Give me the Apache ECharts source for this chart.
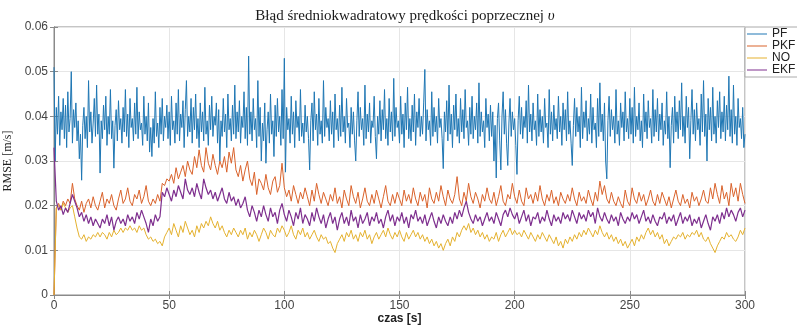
<!DOCTYPE html>
<html>
<head>
<meta charset="utf-8">
<script src="https://cdn.jsdelivr.net/npm/echarts@6/dist/echarts.min.js"></script>
<style>
html,body{margin:0;padding:0;background:#fff;}
#chart{width:797px;height:327px;}
</style>
</head>
<body>
<div id="chart"></div>
<script>
// time steps (s)
const pfStep = 0.5;
const otherStep = 1;

// PF – RMSE [m/s], every 0.5 s from 0 to 300 s
const pf = [
0.0510,0.0300,0.0420,0.0360,0.0445,0.0335,0.0410,0.0370,0.0440,0.0350,0.0425,0.0330,0.0455,0.0365,0.0395,0.0500,0.0340,0.0415,0.0375,0.0430,
0.0345,0.0390,0.0305,0.0360,0.0257,0.0380,0.0420,0.0350,0.0400,0.0330,0.0480,0.0365,0.0410,0.0340,0.0385,0.0440,0.0355,0.0470,0.0360,0.0405,
0.0273,0.0390,0.0350,0.0425,0.0370,0.0445,0.0335,0.0400,0.0360,0.0460,0.0350,0.0390,0.0284,0.0380,0.0415,0.0345,0.0435,0.0370,0.0395,0.0340,
0.0420,0.0365,0.0460,0.0355,0.0405,0.0330,0.0440,0.0375,0.0395,0.0345,0.0430,0.0360,0.0465,0.0350,0.0410,0.0370,0.0385,0.0335,0.0445,0.0360,
0.0400,0.0345,0.0430,0.0320,0.0375,0.0310,0.0395,0.0340,0.0455,0.0355,0.0385,0.0330,0.0420,0.0360,0.0440,0.0345,0.0400,0.0375,0.0425,0.0350,
0.0410,0.0335,0.0445,0.0370,0.0390,0.0340,0.0430,0.0360,0.0460,0.0345,0.0405,0.0375,0.0435,0.0330,0.0415,0.0480,0.0355,0.0400,0.0365,0.0440,
0.0340,0.0420,0.0370,0.0450,0.0350,0.0395,0.0330,0.0430,0.0365,0.0410,0.0345,0.0465,0.0360,0.0390,0.0335,0.0425,0.0370,0.0445,0.0355,0.0400,
0.0380,0.0430,0.0340,0.0415,0.0300,0.0390,0.0355,0.0440,0.0365,0.0405,0.0330,0.0450,0.0370,0.0395,0.0345,0.0425,0.0360,0.0470,0.0350,0.0410,
0.0365,0.0435,0.0340,0.0400,0.0375,0.0455,0.0350,0.0420,0.0335,0.0535,0.0360,0.0410,0.0345,0.0440,0.0370,0.0395,0.0330,0.0480,0.0355,0.0420,
0.0300,0.0385,0.0345,0.0430,0.0295,0.0370,0.0410,0.0340,0.0450,0.0360,0.0390,0.0310,0.0425,0.0355,0.0440,0.0365,0.0400,0.0335,0.0460,0.0350,
0.0530,0.0275,0.0420,0.0370,0.0395,0.0340,0.0445,0.0360,0.0410,0.0330,0.0435,0.0375,0.0400,0.0345,0.0460,0.0355,0.0385,0.0340,0.0425,0.0365,
0.0400,0.0350,0.0280,0.0390,0.0430,0.0345,0.0455,0.0370,0.0405,0.0335,0.0440,0.0360,0.0390,0.0340,0.0480,0.0355,0.0420,0.0375,0.0395,0.0345,
0.0435,0.0360,0.0410,0.0330,0.0450,0.0370,0.0395,0.0345,0.0425,0.0355,0.0465,0.0365,0.0400,0.0340,0.0440,0.0375,0.0385,0.0330,0.0420,0.0360,
0.0410,0.0345,0.0300,0.0390,0.0455,0.0355,0.0420,0.0370,0.0395,0.0335,0.0470,0.0350,0.0405,0.0365,0.0430,0.0340,0.0390,0.0375,0.0445,0.0355,
0.0305,0.0400,0.0360,0.0435,0.0345,0.0415,0.0370,0.0460,0.0350,0.0395,0.0335,0.0440,0.0365,0.0410,0.0345,0.0485,0.0355,0.0420,0.0375,0.0390,
0.0340,0.0445,0.0360,0.0405,0.0330,0.0430,0.0370,0.0465,0.0350,0.0395,0.0345,0.0425,0.0365,0.0450,0.0335,0.0410,0.0375,0.0440,0.0355,0.0400,
0.0360,0.0430,0.0505,0.0345,0.0415,0.0370,0.0390,0.0335,0.0455,0.0355,0.0420,0.0365,0.0400,0.0340,0.0440,0.0375,0.0395,0.0350,0.0283,0.0410,
0.0365,0.0435,0.0345,0.0470,0.0360,0.0405,0.0330,0.0425,0.0370,0.0450,0.0355,0.0395,0.0340,0.0440,0.0365,0.0415,0.0350,0.0460,0.0375,0.0390,
0.0335,0.0420,0.0360,0.0445,0.0350,0.0400,0.0370,0.0430,0.0340,0.0475,0.0355,0.0410,0.0365,0.0390,0.0330,0.0440,0.0375,0.0405,0.0345,0.0425,
0.0355,0.0410,0.0300,0.0380,0.0262,0.0395,0.0430,0.0345,0.0280,0.0400,0.0455,0.0360,0.0415,0.0340,0.0290,0.0385,0.0440,0.0355,0.0410,0.0370,
0.0395,0.0335,0.0270,0.0390,0.0445,0.0360,0.0420,0.0350,0.0400,0.0375,0.0435,0.0340,0.0470,0.0365,0.0405,0.0345,0.0430,0.0370,0.0390,0.0335,
0.0450,0.0355,0.0415,0.0365,0.0400,0.0340,0.0440,0.0375,0.0385,0.0330,0.0460,0.0360,0.0410,0.0345,0.0425,0.0370,0.0395,0.0350,0.0445,0.0365,
0.0400,0.0335,0.0430,0.0370,0.0415,0.0345,0.0455,0.0360,0.0390,0.0340,0.0290,0.0380,0.0440,0.0355,0.0420,0.0365,0.0400,0.0330,0.0465,0.0350,
0.0410,0.0375,0.0435,0.0345,0.0395,0.0360,0.0450,0.0340,0.0420,0.0370,0.0385,0.0330,0.0440,0.0355,0.0475,0.0365,0.0405,0.0345,0.0430,0.0300,
0.0260,0.0390,0.0445,0.0355,0.0415,0.0370,0.0400,0.0340,0.0460,0.0360,0.0390,0.0335,0.0430,0.0375,0.0410,0.0345,0.0455,0.0365,0.0395,0.0350,
0.0440,0.0360,0.0420,0.0340,0.0465,0.0355,0.0400,0.0370,0.0430,0.0345,0.0390,0.0330,0.0450,0.0365,0.0410,0.0350,0.0435,0.0375,0.0395,0.0340,
0.0460,0.0355,0.0415,0.0365,0.0440,0.0345,0.0405,0.0370,0.0430,0.0335,0.0390,0.0360,0.0455,0.0350,0.0400,0.0285,0.0380,0.0420,0.0340,0.0445,
0.0365,0.0410,0.0350,0.0435,0.0370,0.0475,0.0355,0.0400,0.0340,0.0445,0.0375,0.0420,0.0305,0.0390,0.0460,0.0360,0.0415,0.0345,0.0430,0.0370,
0.0395,0.0335,0.0450,0.0365,0.0480,0.0355,0.0405,0.0300,0.0440,0.0370,0.0420,0.0345,0.0465,0.0360,0.0400,0.0340,0.0435,0.0375,0.0455,0.0350,
0.0410,0.0365,0.0445,0.0345,0.0425,0.0370,0.0490,0.0355,0.0415,0.0340,0.0470,0.0360,0.0400,0.0335,0.0440,0.0375,0.0395,0.0350,0.0420,0.0330,
0.0360
];

// PKF – every 1 s from 0 to 300 s
const pkf = [
0.0000,0.0195,0.0205,0.0190,0.0210,0.0200,0.0215,0.0205,0.0250,0.0215,
0.0200,0.0190,0.0210,0.0185,0.0205,0.0215,0.0195,0.0220,0.0200,0.0190,
0.0210,0.0230,0.0195,0.0215,0.0205,0.0225,0.0200,0.0190,0.0215,0.0235,
0.0205,0.0215,0.0240,0.0210,0.0200,0.0225,0.0215,0.0235,0.0205,0.0220,
0.0245,0.0210,0.0200,0.0215,0.0205,0.0225,0.0210,0.0250,0.0245,0.0260,
0.0255,0.0270,0.0250,0.0285,0.0260,0.0275,0.0290,0.0265,0.0300,0.0280,
0.0270,0.0310,0.0285,0.0325,0.0290,0.0275,0.0330,0.0295,0.0280,0.0315,
0.0290,0.0270,0.0300,0.0285,0.0310,0.0275,0.0320,0.0295,0.0330,0.0280,
0.0265,0.0290,0.0255,0.0280,0.0300,0.0260,0.0245,0.0275,0.0225,0.0260,
0.0250,0.0235,0.0270,0.0240,0.0225,0.0255,0.0265,0.0230,0.0245,0.0295,
0.0240,0.0220,0.0235,0.0210,0.0245,0.0225,0.0205,0.0230,0.0215,0.0240,
0.0220,0.0200,0.0235,0.0210,0.0250,0.0225,0.0205,0.0230,0.0215,0.0200,
0.0225,0.0210,0.0240,0.0205,0.0220,0.0195,0.0235,0.0215,0.0200,0.0245,
0.0220,0.0205,0.0230,0.0195,0.0215,0.0240,0.0210,0.0200,0.0225,0.0205,
0.0235,0.0215,0.0195,0.0220,0.0245,0.0210,0.0200,0.0225,0.0205,0.0230,
0.0215,0.0200,0.0235,0.0210,0.0225,0.0205,0.0240,0.0215,0.0200,0.0230,
0.0210,0.0225,0.0195,0.0240,0.0215,0.0205,0.0230,0.0210,0.0245,0.0220,
0.0200,0.0235,0.0215,0.0205,0.0225,0.0265,0.0215,0.0200,0.0230,0.0210,
0.0250,0.0220,0.0205,0.0230,0.0215,0.0195,0.0225,0.0210,0.0240,0.0215,
0.0205,0.0230,0.0200,0.0220,0.0245,0.0210,0.0200,0.0225,0.0215,0.0250,
0.0220,0.0205,0.0235,0.0210,0.0200,0.0240,0.0215,0.0225,0.0205,0.0230,
0.0210,0.0245,0.0215,0.0200,0.0225,0.0210,0.0235,0.0205,0.0220,0.0200,
0.0230,0.0215,0.0205,0.0225,0.0210,0.0240,0.0215,0.0200,0.0230,0.0210,
0.0220,0.0205,0.0235,0.0215,0.0200,0.0230,0.0210,0.0255,0.0225,0.0245,
0.0215,0.0205,0.0230,0.0210,0.0200,0.0220,0.0205,0.0195,0.0235,0.0210,
0.0200,0.0240,0.0215,0.0205,0.0230,0.0210,0.0225,0.0200,0.0215,0.0235,
0.0210,0.0200,0.0225,0.0205,0.0230,0.0215,0.0200,0.0220,0.0195,0.0215,
0.0235,0.0210,0.0200,0.0225,0.0205,0.0215,0.0195,0.0230,0.0210,0.0220,
0.0200,0.0215,0.0235,0.0210,0.0205,0.0240,0.0215,0.0250,0.0225,0.0205,
0.0245,0.0215,0.0230,0.0200,0.0250,0.0220,0.0240,0.0210,0.0250,0.0225,
0.0205
];

// NO – every 1 s from 0 to 300 s
const no = [
0.0000,0.0195,0.0200,0.0190,0.0205,0.0195,0.0185,0.0195,0.0200,0.0175,
0.0150,0.0130,0.0125,0.0135,0.0120,0.0130,0.0125,0.0135,0.0130,0.0140,
0.0130,0.0140,0.0135,0.0125,0.0140,0.0130,0.0145,0.0135,0.0140,0.0150,
0.0140,0.0150,0.0145,0.0155,0.0145,0.0150,0.0140,0.0155,0.0145,0.0150,
0.0135,0.0125,0.0130,0.0120,0.0125,0.0115,0.0120,0.0110,0.0130,0.0140,
0.0150,0.0135,0.0160,0.0145,0.0130,0.0155,0.0140,0.0165,0.0150,0.0135,
0.0145,0.0130,0.0155,0.0140,0.0160,0.0150,0.0165,0.0155,0.0175,0.0160,
0.0150,0.0165,0.0145,0.0155,0.0140,0.0130,0.0145,0.0135,0.0150,0.0140,
0.0130,0.0145,0.0135,0.0150,0.0125,0.0140,0.0130,0.0145,0.0135,0.0120,
0.0135,0.0150,0.0140,0.0125,0.0145,0.0135,0.0130,0.0150,0.0140,0.0155,
0.0145,0.0130,0.0140,0.0155,0.0135,0.0125,0.0145,0.0135,0.0150,0.0130,
0.0140,0.0125,0.0135,0.0145,0.0130,0.0120,0.0135,0.0125,0.0130,0.0115,
0.0120,0.0105,0.0095,0.0115,0.0125,0.0135,0.0120,0.0140,0.0130,0.0145,
0.0125,0.0135,0.0120,0.0140,0.0130,0.0145,0.0125,0.0135,0.0115,0.0130,
0.0140,0.0125,0.0135,0.0145,0.0130,0.0150,0.0135,0.0125,0.0140,0.0130,
0.0145,0.0130,0.0120,0.0140,0.0125,0.0135,0.0145,0.0130,0.0140,0.0125,
0.0135,0.0120,0.0130,0.0115,0.0125,0.0110,0.0120,0.0105,0.0115,0.0100,
0.0115,0.0125,0.0110,0.0130,0.0120,0.0140,0.0130,0.0145,0.0155,0.0145,
0.0160,0.0140,0.0150,0.0135,0.0145,0.0130,0.0140,0.0125,0.0135,0.0120,
0.0130,0.0125,0.0140,0.0120,0.0135,0.0145,0.0130,0.0140,0.0150,0.0135,
0.0145,0.0135,0.0140,0.0130,0.0145,0.0135,0.0125,0.0140,0.0130,0.0120,
0.0135,0.0125,0.0140,0.0130,0.0120,0.0135,0.0125,0.0115,0.0130,0.0110,
0.0120,0.0105,0.0125,0.0115,0.0130,0.0120,0.0135,0.0125,0.0140,0.0130,
0.0145,0.0135,0.0150,0.0140,0.0130,0.0145,0.0135,0.0155,0.0140,0.0130,
0.0140,0.0125,0.0135,0.0120,0.0130,0.0115,0.0125,0.0110,0.0120,0.0105,
0.0115,0.0125,0.0110,0.0130,0.0120,0.0135,0.0125,0.0140,0.0150,0.0135,
0.0145,0.0130,0.0140,0.0125,0.0135,0.0115,0.0125,0.0110,0.0120,0.0130,
0.0125,0.0135,0.0130,0.0140,0.0125,0.0135,0.0130,0.0140,0.0135,0.0145,
0.0130,0.0140,0.0125,0.0120,0.0130,0.0115,0.0105,0.0095,0.0110,0.0120,
0.0130,0.0125,0.0140,0.0130,0.0135,0.0125,0.0120,0.0130,0.0145,0.0135,
0.0150
];

// EKF – every 1 s from 0 to 300 s
const ekf = [
0.0330,0.0210,0.0190,0.0200,0.0180,0.0195,0.0185,0.0205,0.0225,0.0210,
0.0195,0.0175,0.0185,0.0165,0.0180,0.0160,0.0175,0.0155,0.0170,0.0160,
0.0150,0.0170,0.0160,0.0180,0.0155,0.0175,0.0145,0.0165,0.0175,0.0160,
0.0170,0.0155,0.0180,0.0165,0.0175,0.0160,0.0185,0.0170,0.0190,0.0175,
0.0160,0.0140,0.0170,0.0155,0.0180,0.0165,0.0175,0.0230,0.0220,0.0240,
0.0225,0.0210,0.0235,0.0220,0.0245,0.0230,0.0215,0.0260,0.0235,0.0225,
0.0240,0.0220,0.0250,0.0230,0.0215,0.0260,0.0240,0.0225,0.0235,0.0215,
0.0230,0.0210,0.0225,0.0240,0.0215,0.0205,0.0230,0.0210,0.0220,0.0200,
0.0215,0.0195,0.0205,0.0220,0.0190,0.0175,0.0200,0.0185,0.0165,0.0190,
0.0175,0.0200,0.0180,0.0165,0.0195,0.0175,0.0185,0.0160,0.0190,0.0205,
0.0180,0.0165,0.0190,0.0175,0.0155,0.0185,0.0170,0.0195,0.0160,0.0180,
0.0170,0.0155,0.0185,0.0165,0.0195,0.0175,0.0160,0.0180,0.0150,0.0170,
0.0185,0.0160,0.0175,0.0145,0.0170,0.0185,0.0160,0.0175,0.0155,0.0190,
0.0165,0.0175,0.0150,0.0180,0.0160,0.0170,0.0185,0.0155,0.0175,0.0165,
0.0185,0.0160,0.0170,0.0150,0.0175,0.0190,0.0165,0.0180,0.0155,0.0175,
0.0165,0.0185,0.0160,0.0175,0.0150,0.0180,0.0170,0.0190,0.0165,0.0175,
0.0160,0.0180,0.0155,0.0170,0.0185,0.0165,0.0150,0.0175,0.0160,0.0180,
0.0165,0.0155,0.0175,0.0160,0.0185,0.0170,0.0190,0.0175,0.0195,0.0210,
0.0185,0.0170,0.0160,0.0180,0.0165,0.0175,0.0155,0.0170,0.0185,0.0165,
0.0175,0.0160,0.0185,0.0170,0.0155,0.0180,0.0190,0.0175,0.0195,0.0180,
0.0170,0.0185,0.0160,0.0175,0.0190,0.0165,0.0180,0.0155,0.0175,0.0170,
0.0185,0.0160,0.0175,0.0165,0.0190,0.0170,0.0155,0.0180,0.0165,0.0175,
0.0160,0.0185,0.0170,0.0180,0.0165,0.0190,0.0175,0.0160,0.0185,0.0170,
0.0180,0.0165,0.0190,0.0175,0.0185,0.0160,0.0195,0.0175,0.0165,0.0185,
0.0170,0.0160,0.0180,0.0165,0.0175,0.0155,0.0185,0.0170,0.0160,0.0175,
0.0165,0.0185,0.0170,0.0180,0.0160,0.0175,0.0190,0.0165,0.0175,0.0160,
0.0180,0.0165,0.0155,0.0175,0.0170,0.0185,0.0160,0.0175,0.0165,0.0180,
0.0155,0.0170,0.0185,0.0160,0.0175,0.0165,0.0180,0.0155,0.0170,0.0160,
0.0175,0.0150,0.0165,0.0180,0.0160,0.0145,0.0175,0.0165,0.0180,0.0160,
0.0185,0.0170,0.0195,0.0175,0.0190,0.0180,0.0165,0.0185,0.0195,0.0175,
0.0190
];

const seriesNames = ['PF', 'PKF', 'NO', 'EKF'];
const seriesColors = ['#1f77b4', '#d9622b', '#e4b12f', '#7e2f8e'];
const xTicks = { min: 0, max: 300, interval: 50 };
const yTicks = { min: 0, max: 0.06, interval: 0.01 };

function pairs(values, step) {
  return values.map((v, i) => [i * step, v]);
}

const chart = echarts.init(document.getElementById('chart'), null, { renderer: 'canvas' });

const tickColor = '#8a8a8a';
const labelStyle = { fontFamily: 'Liberation Sans, Arial, sans-serif', fontSize: 12, color: '#444' };

const dataSets = [pairs(pf, pfStep), pairs(pkf, otherStep), pairs(no, otherStep), pairs(ekf, otherStep)];

chart.setOption({
  animation: false,
  backgroundColor: '#fff',
  title: {
    text: '{a|Błąd średniokwadratowy prędkości poprzecznej }{b|υ}',
    left: 400,
    textAlign: 'center',
    top: 4,
    textStyle: {
      fontWeight: 'normal',
      rich: {
        a: { fontFamily: 'Liberation Serif, Times New Roman, serif', fontSize: 15, fontWeight: 'normal', color: '#1a1a1a' },
        b: { fontFamily: 'Liberation Serif, Times New Roman, serif', fontSize: 15, fontWeight: 'normal', fontStyle: 'italic', color: '#1a1a1a' }
      }
    }
  },
  legend: {
    data: seriesNames,
    orient: 'vertical',
    left: 745,
    top: 27,
    padding: [1, 3, 1, 2],
    itemGap: 0,
    itemWidth: 20,
    itemHeight: 1,
    icon: 'rect',
    backgroundColor: '#fff',
    borderColor: '#aaaaaa',
    borderWidth: 1,
    borderRadius: 0,
    textStyle: { fontFamily: 'Liberation Sans, Arial, sans-serif', fontSize: 12, color: '#222', lineHeight: 12 }
  },
  grid: { left: 54, right: 52, top: 27, bottom: 32, outerBoundsMode: 'none', containLabel: false, show: true, borderColor: tickColor, borderWidth: 1, backgroundColor: '#fff' },
  xAxis: [{
    type: 'value', min: xTicks.min, max: xTicks.max, interval: xTicks.interval,
    name: 'czas [s]', nameLocation: 'middle', nameGap: 18, nameMoveOverlap: false,
    nameTextStyle: { fontFamily: 'Liberation Sans, Arial, sans-serif', fontSize: 12, fontWeight: 'bold', color: '#222' },
    axisLine: { show: true, lineStyle: { color: tickColor } },
    axisTick: { show: true, inside: true, length: 4, lineStyle: { color: tickColor } },
    axisLabel: Object.assign({ margin: 5 }, labelStyle),
    splitLine: { show: true, lineStyle: { color: '#e6e6e6', width: 1 } }
  }, {
    type: 'value', position: 'top', min: xTicks.min, max: xTicks.max, interval: xTicks.interval,
    axisLine: { show: true, lineStyle: { color: tickColor } },
    axisTick: { show: true, inside: true, length: 4, lineStyle: { color: tickColor } },
    axisLabel: { show: false }, splitLine: { show: false }
  }],
  yAxis: [{
    type: 'value', min: yTicks.min, max: yTicks.max, interval: yTicks.interval,
    name: 'RMSE [m/s]', nameLocation: 'middle', nameGap: 40, nameMoveOverlap: false,
    nameTextStyle: { fontFamily: 'Liberation Serif, Times New Roman, serif', fontSize: 12, color: '#222' },
    axisLine: { show: true, lineStyle: { color: tickColor } },
    axisTick: { show: true, inside: true, length: 4, lineStyle: { color: tickColor } },
    axisLabel: Object.assign({ margin: 6 }, labelStyle),
    splitLine: { show: true, lineStyle: { color: '#e6e6e6', width: 1 } }
  }, {
    type: 'value', position: 'right', min: yTicks.min, max: yTicks.max, interval: yTicks.interval,
    axisLine: { show: true, lineStyle: { color: tickColor } },
    axisTick: { show: true, inside: true, length: 4, lineStyle: { color: tickColor } },
    axisLabel: { show: false }, splitLine: { show: false }
  }],
  series: seriesNames.map((name, k) => ({
    name: name,
    type: 'line',
    xAxisIndex: 0,
    yAxisIndex: 0,
    data: dataSets[k],
    showSymbol: false,
    symbol: 'none',
    color: seriesColors[k],
    lineStyle: { width: k === 3 ? 1.2 : 1, color: seriesColors[k] },
    z: 2 + k
  }))
});
</script>
</body>
</html>
